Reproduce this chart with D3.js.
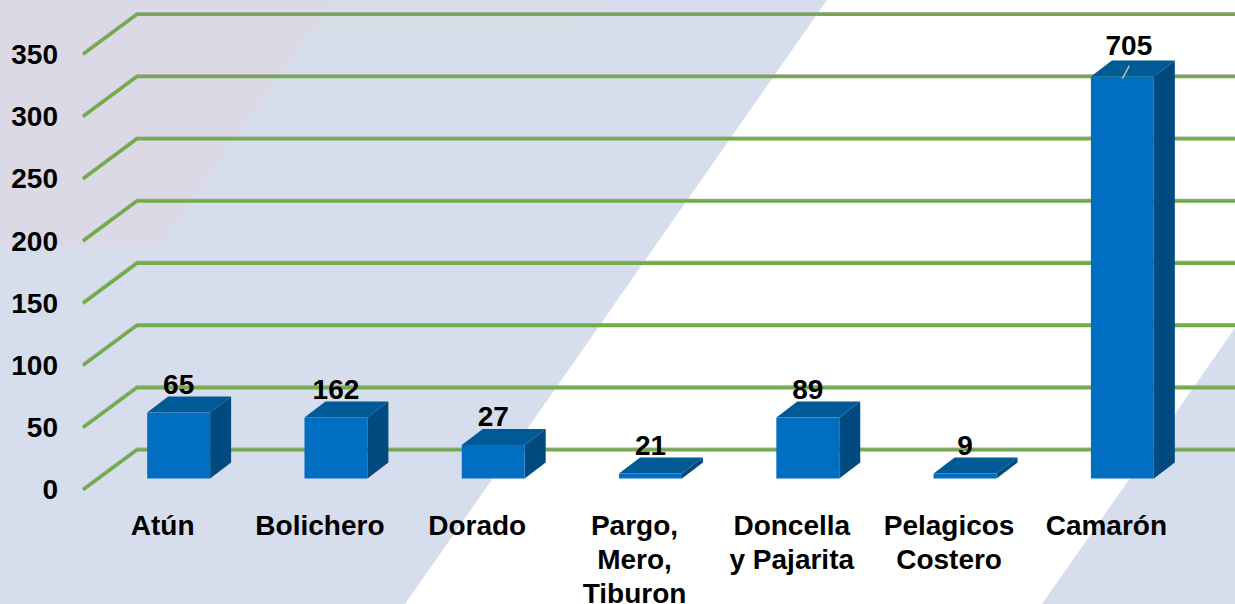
<!DOCTYPE html>
<html>
<head>
<meta charset="utf-8">
<script src="https://cdn.jsdelivr.net/npm/d3@7"></script>
<style>
	html, body {margin: 0; padding: 0; background: #fff; overflow: hidden}
	text {font-family: "Liberation Sans", Arial, sans-serif; font-weight: bold; fill: #000}
</style>
</head>
<body>
<svg id="chart" width="1235" height="604"></svg>
<script>
/*** Data ***/
const categories = ["Atún", "Bolichero", "Dorado", "Pargo,\nMero,\nTiburon", "Doncella\ny Pajarita", "Pelagicos\nCostero", "Camarón"]
// the bar heights in the picture do not follow the printed labels, so both are kept
const heights = [53, 49, 27, 4, 49, 4, 323]
const labels = [65, 162, 27, 21, 89, 9, 705]
const ticks = [0, 50, 100, 150, 200, 250, 300, 350]

/*** Setup ***/
const W = 1235, H = 604
const depth = {x: 54, y: -40}   // floor depth of the chart box
const bar = {x: 21, y: -16}     // depth of a bar
const svg = d3.select("#chart")

const y = d3.scaleLinear().domain([0, 350]).range([490, 54.5])
const x = d3.scaleBand().domain(categories).range([100, 1201]).paddingInner(0.6).paddingOuter(0.3)
const base = y(0) - 11.5
const bw = x.bandwidth()
const px = (i) => x(categories[i])
const barTop = (i) => base - (y(0) - y(heights[i]))

/*** Background ***/
const line = d3.line()
const shapes = [
	{fill: "#d6ddec", p: [[0, 0], [827, 0], [405, 604], [0, 604]]},
	{fill: "#d6ddec", p: [[1235, 328], [1042, 604], [1235, 604]]},
	{fill: "#d6dde6", p: [[333, 0], [598, 0], [572, 38], [306, 38]]},
	{fill: "#dbd9e5", p: [[0, 0], [333, 0], [161, 245], [0, 245]]}
]
svg.append("g").selectAll("path").data(shapes).join("path")
	.attr("d", (d) => line(d.p) + "Z")
	.attr("fill", (d) => d.fill)

/*** Grid ***/
const gridPath = (t, o) => line([[83, y(t) + o], [83 + depth.x, y(t) + depth.y + o], [W, y(t) + depth.y + o]])
svg.append("g").selectAll("path").data(ticks).join("path")
	.attr("d", (t) => gridPath(t, -1))
	.attr("fill", "none")
	.attr("stroke", "#a5a5a5")
	.attr("stroke-width", 3)
svg.append("g").selectAll("path").data(ticks).join("path")
	.attr("d", (t) => gridPath(t, 0))
	.attr("fill", "none")
	.attr("stroke", "#70ad47")
	.attr("stroke-width", 3.2)

/*** Axis ***/
const axis = svg.append("g")
	.attr("transform", "translate(58,0)")
	.call(d3.axisLeft(y).tickValues(ticks).tickSize(0).tickPadding(0).tickFormat(d3.format("d")))
axis.select(".domain").remove()
axis.attr("font-family", null).attr("font-size", null)
axis.selectAll("text").style("font-size", "28px")

/*** Bars ***/
const g = svg.append("g").selectAll("g").data(categories).join("g")

// top face
g.append("path")
	.attr("d", (_, i) => {
		var l = px(i), t = barTop(i)
		return line([[l, t], [l + bar.x, t + bar.y], [l + bw + bar.x, t + bar.y], [l + bw, t]]) + "Z"
	})
	.attr("fill", "#005a96")
// side face
g.append("path")
	.attr("d", (_, i) => {
		var r = px(i) + bw, t = barTop(i)
		return line([[r, t], [r + bar.x, t + bar.y], [r + bar.x, base + bar.y], [r, base]]) + "Z"
	})
	.attr("fill", "#004a80")
// front face
g.append("rect")
	.attr("x", (_, i) => px(i))
	.attr("y", (_, i) => barTop(i))
	.attr("width", bw)
	.attr("height", (_, i) => base - barTop(i))
	.attr("fill", "#006fc1")

/*** Value labels ***/
svg.append("g").selectAll("text").data(labels).join("text")
	.attr("x", (_, i) => px(i) + bw / 2 + (i == 6 ? 6.5 : 0))
	.attr("y", (_, i) => barTop(i) - (i == 6 ? 22 : 19))
	.attr("text-anchor", "middle")
	.style("font-size", "28px")
	.text((d) => d)

// leader line of the last label
svg.append("line")
	.attr("x1", px(6) + bw / 2)
	.attr("y1", barTop(6) + 2)
	.attr("x2", px(6) + bw / 2 + 7)
	.attr("y2", barTop(6) - 11)
	.attr("stroke", "#b5b5b5")
	.attr("stroke-width", 1.6)

/*** Category labels ***/
const cat = svg.append("g").selectAll("text").data(categories).join("text")
	.attr("text-anchor", "middle")
	.style("font-size", "28px")
	.attr("transform", (d) => "translate(" + (x(d) + bw / 2 - 16) + ",535)")
cat.selectAll("tspan").data((d) => d.split("\n")).join("tspan")
	.attr("x", 0)
	.attr("dy", (_, i) => i ? 34 : 0)
	.text((d) => d)
</script>
</body>
</html>
